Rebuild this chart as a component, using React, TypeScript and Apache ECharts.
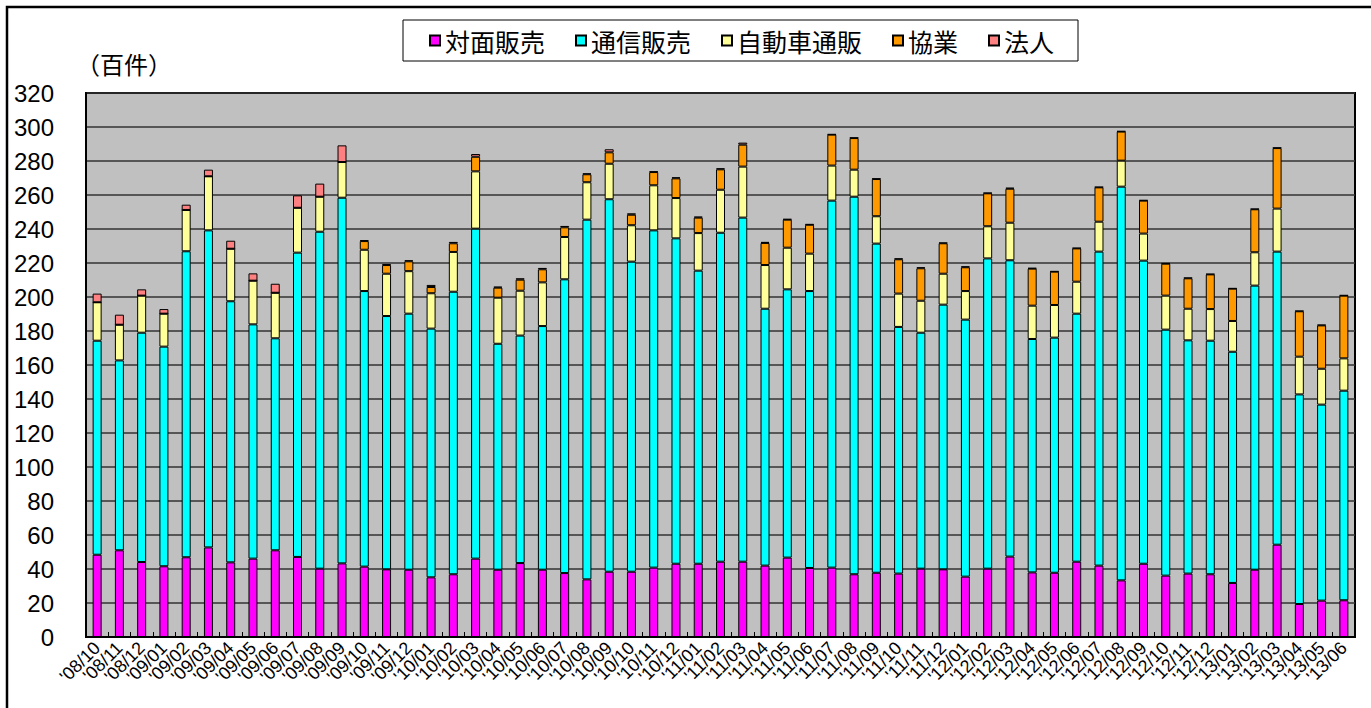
import React, { useEffect, useRef } from "react";
import * as echarts from "echarts";

const categories = [
  "'08/10", "'08/11", "'08/12",
  "'09/01", "'09/02", "'09/03", "'09/04", "'09/05", "'09/06", "'09/07", "'09/08", "'09/09", "'09/10", "'09/11", "'09/12",
  "'10/01", "'10/02", "'10/03", "'10/04", "'10/05", "'10/06", "'10/07", "'10/08", "'10/09", "'10/10", "'10/11", "'10/12",
  "'11/01", "'11/02", "'11/03", "'11/04", "'11/05", "'11/06", "'11/07", "'11/08", "'11/09", "'11/10", "'11/11", "'11/12",
  "'12/01", "'12/02", "'12/03", "'12/04", "'12/05", "'12/06", "'12/07", "'12/08", "'12/09", "'12/10", "'12/11", "'12/12",
  "'13/01", "'13/02", "'13/03", "'13/04", "'13/05", "'13/06",
];

// 対面販売
const faceToFace = [
  48.4, 51.0, 44.1,
  41.6, 46.9, 52.7, 43.9, 46.1, 51.0, 47.1, 40.2, 43.3, 41.4, 39.8, 39.6,
  35.1, 36.9, 46.1, 39.6, 43.5, 39.6, 37.6, 33.9, 38.4, 38.4, 40.8, 43.1,
  43.1, 44.3, 44.3, 42.0, 46.7, 40.6, 40.8, 36.9, 37.8, 37.3, 40.2, 39.8,
  35.5, 40.2, 47.3, 38.0, 37.8, 44.3, 42.0, 33.3, 43.1, 36.1, 37.3, 36.9,
  31.8, 39.6, 54.3, 19.4, 21.4, 21.6,
];

// 通信販売
const mailOrder = [
  125.9, 111.7, 134.9,
  129.2, 180.0, 186.5, 153.6, 137.8, 124.7, 179.0, 198.2, 215.1, 162.1, 149.0, 150.6,
  146.3, 166.2, 194.1, 132.9, 133.8, 143.3, 172.8, 211.6, 219.1, 182.4, 198.4, 191.4,
  172.4, 193.5, 202.4, 151.1, 157.8, 162.9, 215.9, 222.1, 193.6, 145.1, 138.8, 155.7,
  151.2, 182.5, 174.3, 137.3, 138.3, 145.9, 184.7, 231.6, 178.3, 144.7, 137.2, 137.4,
  136.0, 167.1, 172.4, 123.3, 115.3, 123.3,
];

// 自動車通販
const autoMail = [
  22.6, 21.0, 21.8,
  19.4, 24.3, 31.8, 30.9, 25.7, 26.8, 26.4, 20.6, 21.0, 24.3, 24.9, 25.0,
  20.8, 23.4, 33.7, 27.1, 26.4, 25.7, 24.9, 22.0, 20.9, 21.4, 26.5, 23.7,
  22.1, 25.3, 30.0, 25.7, 24.5, 22.0, 20.6, 15.9, 16.1, 19.6, 18.8, 18.2,
  16.8, 18.9, 22.1, 19.6, 19.2, 18.8, 17.6, 15.3, 15.9, 20.0, 18.6, 18.6,
  18.1, 19.6, 25.3, 22.2, 21.1, 19.0,
];

// 協業
const partnership = [
  0, 0, 0,
  0, 0, 0, 0, 0, 0, 0, 0, 0, 5.1, 5.1, 5.8,
  3.7, 5.1, 8.6, 5.9, 6.5, 7.7, 5.7, 4.7, 6.7, 6.2, 7.8, 11.6,
  9.1, 12.0, 12.9, 13.0, 16.5, 17.0, 18.2, 18.6, 21.9, 20.2, 19.1, 17.9,
  14.0, 19.4, 20.0, 21.8, 19.6, 19.6, 20.2, 17.1, 19.4, 18.8, 17.9, 20.4,
  19.0, 25.3, 35.6, 26.7, 25.5, 36.9,
];

// 法人
const corporate = [
  5.1, 5.9, 3.7,
  2.7, 3.1, 3.9, 4.7, 4.3, 5.3, 7.3, 7.7, 9.8, 0.5, 0.5, 0.6,
  1.2, 0.8, 1.6, 0.6, 0.8, 0.8, 0.8, 0.5, 1.8, 0.8, 0.4, 0.6,
  0.6, 0.6, 1.2, 0.6, 0.4, 0.4, 0.3, 0.3, 0.3, 0.5, 0.6, 0.4,
  0.5, 0.3, 0.6, 0.4, 0.3, 0.3, 0.3, 0.3, 0.3, 0.3, 0.4, 0.3,
  0.3, 0.3, 0.3, 0.3, 0.4, 0.3,
];

const seriesNames = ["対面販売", "通信販売", "自動車通販", "協業", "法人"];
const seriesColors = ["#FF00FF", "#00FFFF", "#FFFF99", "#FF9900", "#FF8080"];
const yTicks = { min: 0, max: 320, interval: 20 };

export default function App() {
  const ref = useRef<HTMLDivElement>(null);

  useEffect(() => {
    if (!ref.current) return;
    const chart = echarts.init(ref.current, null, { renderer: "svg" });
    const dataSets = [faceToFace, mailOrder, autoMail, partnership, corporate];
    const option: any = {
      animation: false,
      backgroundColor: "#FFFFFF",
      textStyle: { fontFamily: "Liberation Sans, Arial, sans-serif" },
      legend: {
        data: seriesNames,
        left: 403,
        top: 20,
        padding: [8, 24, 8, 26],
        itemGap: 30,
        itemWidth: 10,
        itemHeight: 10,
        icon: "rect",
        borderColor: "#000",
        borderWidth: 1,
        backgroundColor: "#FFFFFF",
        textStyle: {
          fontSize: 25,
          color: "#000",
          fontFamily: "Noto Sans CJK JP",
        },
      },
      grid: {
        left: 86,
        right: 16,
        top: 93,
        bottom: 71,
        show: true,
        backgroundColor: "#C0C0C0",
        borderColor: "#000",
        borderWidth: 2,
        containLabel: false,
      },
      xAxis: {
        type: "category",
        data: categories,
        axisLine: { show: true, lineStyle: { color: "#000", width: 2 } },
        axisTick: {
          show: true,
          inside: true,
          length: 5,
          alignWithLabel: false,
          lineStyle: { color: "#000", width: 1 },
        },
        axisLabel: {
          interval: 0,
          rotate: 45,
          fontSize: 18,
          color: "#000",
          margin: 8,
          fontFamily: "Liberation Sans, Arial, sans-serif",
        },
      },
      yAxis: {
        type: "value",
        min: yTicks.min,
        max: yTicks.max,
        interval: yTicks.interval,
        axisLine: { show: true, lineStyle: { color: "#000", width: 2 } },
        axisTick: { show: false },
        axisLabel: {
          fontSize: 24,
          color: "#000",
          margin: 32,
          fontFamily: "Liberation Sans, Arial, sans-serif",
        },
        splitLine: { show: true, lineStyle: { color: "#333", width: 1.5 } },
      },
      graphic: [
        {
          type: "rect",
          silent: true,
          shape: { x: 7, y: 7, width: 1420, height: 800 },
          style: { fill: "none", stroke: "#000", lineWidth: 2.5 },
          z: 100,
        },
        {
          type: "text",
          x: 76,
          y: 63,
          style: {
            text: "（百件）",
            fontSize: 24,
            fontFamily: "Noto Sans CJK JP",
            fill: "#000",
            textVerticalAlign: "middle",
          },
        },
      ],
      series: seriesNames.map((name, i) => ({
        name,
        type: "bar",
        stack: "total",
        barWidth: 9,
        data: dataSets[i],
        itemStyle: {
          color: seriesColors[i],
          borderColor: "#000",
          borderWidth: 1,
        },
      })),
    };
    chart.setOption(option);
    return () => chart.dispose();
  }, []);

  return (
    <div
      ref={ref}
      style={{ position: "fixed", left: 0, top: 0, width: 1371, height: 708 }}
    />
  );
}
